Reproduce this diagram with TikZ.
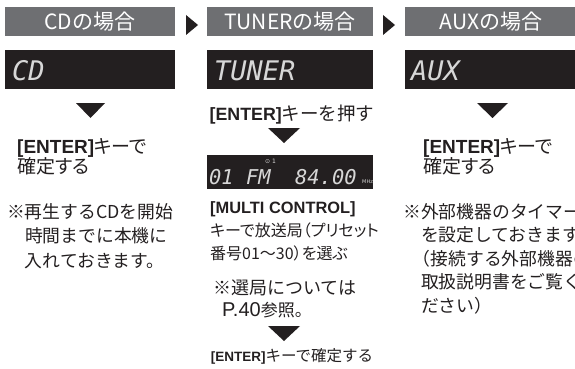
\documentclass[tikz,border=0pt]{standalone}
\usepackage{fontspec}
\setmainfont{Noto Sans CJK JP}
\newfontfamily\jpprop{Noto Sans CJK JP}[RawFeature=+palt]
\newfontfamily\keyfont{Liberation Sans}
\newfontfamily\lcdfont{DejaVu Sans Mono}
\newfontfamily\symfont{DejaVu Sans}
\usepackage{xcolor}
\usepackage{tikz}
\usetikzlibrary{positioning}

\definecolor{headgray}{RGB}{110,111,114}
\definecolor{inkblack}{RGB}{35,31,32}
\definecolor{lcdwhite}{RGB}{215,215,215}

\newcommand{\enterkey}[1]{{\keyfont\bfseries\fontsize{#1}{20}\selectfont [ENTER]}}

\begin{document}
\begin{tikzpicture}[x=1pt,y=-1pt,inner sep=0pt,
  head/.style={fill=headgray,text=white,minimum height=29pt,font=\fontsize{21}{24}\selectfont},
  lcd/.style={fill=inkblack,minimum height=39pt},
  lcdtext/.style={anchor=base west,text=lcdwhite,font=\fontsize{27}{30}\lcdfont\itshape},
  bodytext/.style={anchor=north west,align=left,text=inkblack,font=\fontsize{19}{20}\jpprop},
  notetext/.style={anchor=north west,align=left,text=inkblack,font=\fontsize{17.8}{24.5}\selectfont},
  smalltext/.style={align=left,text=inkblack,font=\fontsize{16}{23}\jpprop}]
\useasboundingbox (0,0) rectangle (575,369);
\clip (0,0) rectangle (575,369);

% headers
\node[head,minimum width=170pt] (hcd) at (90,21.5) {CDの場合};
\node[head,minimum width=166pt] (htu) at (290,21.5) {TUNERの場合};
\node[head,minimum width=172pt] (hax) at (491,21.5) {AUXの場合};
\fill[inkblack] (186,15) -- (198,25) -- (186,35) -- cycle;
\fill[inkblack] (383,15) -- (395,25) -- (383,35) -- cycle;

% displays
\node[lcd,minimum width=170pt] (dcd) at (90,69.5) {};
\node[lcd,minimum width=166pt] (dtu) at (290,69.5) {};
\node[lcd,minimum width=172pt] (dax) at (491,69.5) {};
\node[lcdtext] (tcd) at (12,80) {CD};
\node[lcdtext] (ttu) at (214,80) {TUNER};
\node[lcdtext] (tax) at (411,80) {AUX};

% CD
\fill[inkblack] (76,103) -- (105,103) -- (90.5,118) -- cycle;
\node[bodytext] (cdenter) at (17,138) {\enterkey{19}キーで\\確定する};
\node[notetext] (cdnote) at (7,203)
  {※再生するCDを開始\\\hphantom{※}時間までに本機に\\\hphantom{※}入れておきます。};

% TUNER
\node[smalltext,anchor=north,font=\fontsize{18.5}{20}\selectfont] (tupush) at (292,105) {\enterkey{17.8}キーを押す};
\fill[inkblack] (268,128) -- (300,128) -- (284,143) -- cycle;
\node[lcd,minimum width=166pt,minimum height=34pt] (dfm) at (290,171.5) {};
\node[anchor=base west,text=lcdwhite,font=\fontsize{20.4}{22}\lcdfont\itshape] (tfm) at (209,184) {01~FM~~84.00};
\node[anchor=base west,text=lcdwhite,font=\fontsize{5}{6}\symfont] (tmhz) at (362,183) {MHz};
\node[anchor=base west,text=lcdwhite,font=\fontsize{6}{7}\symfont] (tst) at (265,163) {⊙~1};
\node[smalltext,anchor=north west] (tusel) at (210,201)
  {{\keyfont\bfseries\fontsize{16.4}{23}\selectfont [MULTI CONTROL]}\\キーで放送局（プリセット\\番号01～30）を選ぶ};
\node[anchor=north west,align=left,text=inkblack,font=\fontsize{18}{22}\selectfont] (tunote) at (213,280)
  {※選局については\\\hspace{0.5em}{\keyfont\fontsize{20}{22}\selectfont P.40}{\fontsize{17}{22}\selectfont 参照。}};
\fill[inkblack] (268,326) -- (300,326) -- (284,341) -- cycle;
\node[smalltext,anchor=north,font=\fontsize{15.5}{20}\selectfont] (tuok) at (292,348) {\enterkey{13.5}キーで確定する};

% AUX
\fill[inkblack] (477,103) -- (508,103) -- (492.5,118) -- cycle;
\node[bodytext] (axenter) at (423,138) {\enterkey{19}キーで\\確定する};
\node[notetext,font=\fontsize{17.8}{23.5}\selectfont] (axnote) at (403,203)
  {※外部機器のタイマー\\\hphantom{※}を設定しておきます。\\\hphantom{※}\hspace{-0.45em}（接続する外部機器の\\\hphantom{※}取扱説明書をご覧く\\\hphantom{※}ださい）};
\end{tikzpicture}
\end{document}
